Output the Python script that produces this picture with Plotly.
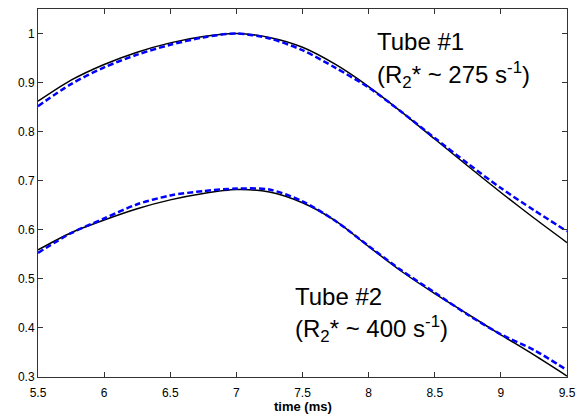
import plotly.graph_objects as go

time_ms = [5.5, 5.75, 6.0, 6.25, 6.5, 6.75, 7.0, 7.25, 7.5, 7.75, 8.0, 8.25, 8.5, 8.75, 9.0, 9.25, 9.5]

tube1_measured = [0.862, 0.905, 0.937, 0.962, 0.981, 0.994, 1.000, 0.992, 0.972, 0.937, 0.892, 0.840, 0.785, 0.730, 0.676, 0.624, 0.574]
tube1_fit = [0.852, 0.897, 0.931, 0.957, 0.977, 0.992, 1.000, 0.990, 0.966, 0.930, 0.890, 0.840, 0.787, 0.735, 0.685, 0.640, 0.597]
tube2_measured = [0.559, 0.594, 0.620, 0.643, 0.661, 0.674, 0.682, 0.677, 0.655, 0.618, 0.566, 0.515, 0.470, 0.428, 0.386, 0.345, 0.302]
tube2_fit = [0.553, 0.593, 0.623, 0.652, 0.670, 0.679, 0.684, 0.682, 0.658, 0.618, 0.567, 0.517, 0.472, 0.427, 0.387, 0.355, 0.314]

x_ticks = [5.5, 6, 6.5, 7, 7.5, 8, 8.5, 9, 9.5]
y_ticks = [0.3, 0.4, 0.5, 0.6, 0.7, 0.8, 0.9, 1]

fig = go.Figure()
for meas, fit in [(tube1_measured, tube1_fit), (tube2_measured, tube2_fit)]:
    fig.add_trace(go.Scatter(x=time_ms, y=meas, mode="lines",
                             line=dict(color="black", width=1.5, shape="spline", smoothing=0.8),
                             showlegend=False))
    fig.add_trace(go.Scatter(x=time_ms, y=fit, mode="lines",
                             line=dict(color="#0000ff", width=2.5, dash="6px,3px", shape="spline", smoothing=0.8),
                             showlegend=False))

ann_font = dict(family="Liberation Sans, Arial, sans-serif", size=24, color="black")
annotations = [
    dict(x=8.045, y=0.984, text="Tube #1"),
    dict(x=8.045, y=0.915, text="(R<sub>2</sub>* ~ 275 s<sup>-1</sup>)"),
    dict(x=7.43, y=0.465, text="Tube #2"),
    dict(x=7.43, y=0.398, text="(R<sub>2</sub>* ~ 400 s<sup>-1</sup>)"),
]
for a in annotations:
    fig.add_annotation(x=a["x"], y=a["y"], text=a["text"], showarrow=False,
                       xanchor="left", yanchor="middle", font=ann_font)

# x-axis title as a paper-anchored annotation
fig.add_annotation(x=0.5, y=-0.079, xref="paper", yref="paper", text="<b>time (ms)</b>",
                   showarrow=False, xanchor="center", yanchor="middle",
                   font=dict(family="Liberation Sans, Arial, sans-serif", size=13, color="black"))

axis_common = dict(showgrid=False, zeroline=False, showline=True, linecolor="#333333",
                   linewidth=1, mirror="ticks", ticks="inside", ticklen=5,
                   tickcolor="#333333", automargin=False,
                   tickfont=dict(family="Liberation Sans, Arial, sans-serif", size=12, color="black"))

fig.update_xaxes(range=[5.5, 9.5], tickvals=x_ticks,
                 ticktext=[f"{v:g}" for v in x_ticks], ticklabelstandoff=5,
                 **axis_common)
fig.update_yaxes(range=[0.3, 1.05], tickvals=y_ticks,
                 ticktext=[f"{v:g}" for v in y_ticks], **axis_common)

fig.update_layout(width=588, height=415,
                  margin=dict(l=38, r=21, t=9, b=38),
                  plot_bgcolor="white", paper_bgcolor="white")

fig.write_html("out.html", config={"displayModeBar": False},
               post_script="document.body.style.margin='0';")
